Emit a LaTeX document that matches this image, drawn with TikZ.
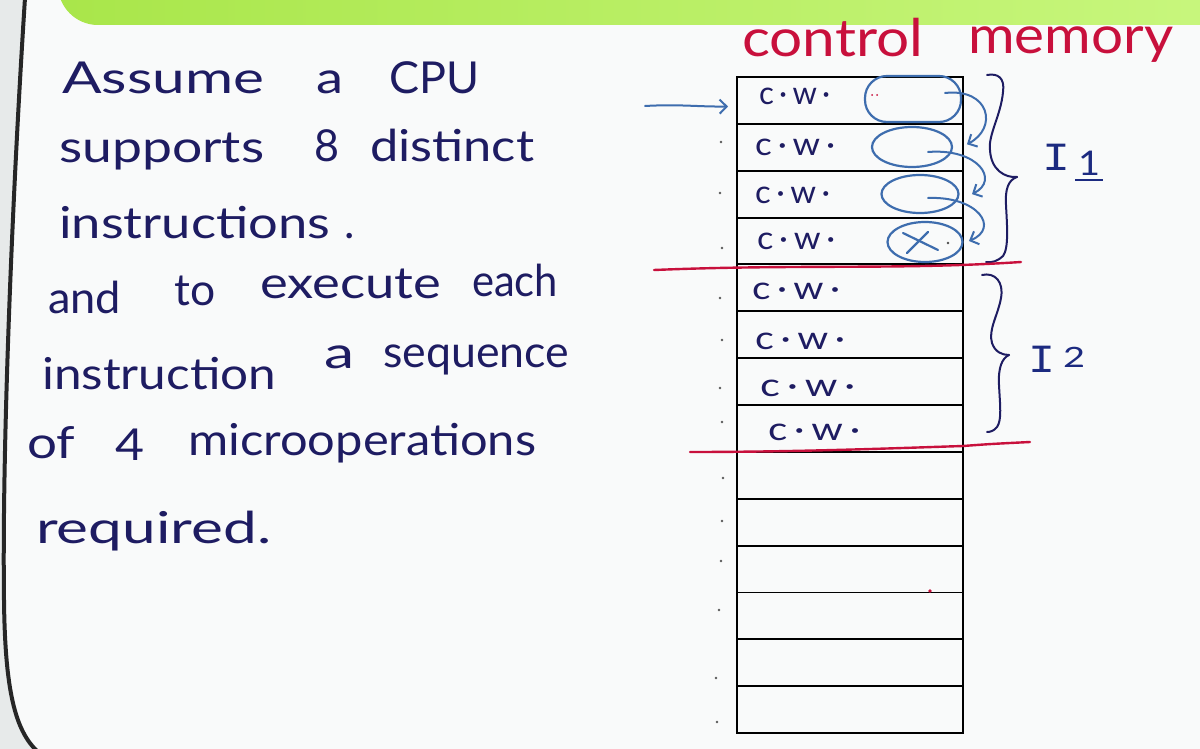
\documentclass[tikz,border=0pt]{standalone}
\usepackage{fontspec}
\usepackage{graphicx}
\setmainfont{Lato}
\newfontfamily\monoI{Liberation Mono}
\usetikzlibrary{shapes.geometric,arrows.meta,calc}
\definecolor{ink}{HTML}{1E1C62}
\definecolor{redink}{HTML}{C8103C}
\definecolor{blueink}{HTML}{3E6DAE}
\definecolor{navy}{HTML}{1C2A80}
\definecolor{board}{HTML}{F9FAFA}
\definecolor{edgegrey}{HTML}{E7EAEA}
\definecolor{gA}{HTML}{A9E64A}
\definecolor{gB}{HTML}{C9F77F}
\newcommand\hwd[2]{\resizebox{#1pt}{\height}{#2}}
\tikzset{
  hw/.style={anchor=base west, inner sep=0pt, text=ink, font=\fontsize{44}{50}\selectfont},
  rw/.style={anchor=base west, inner sep=0pt, text=redink, font=\fontsize{52}{60}\selectfont},
  cw/.style={anchor=base west, inner sep=0pt, text=ink, font=\fontsize{32}{38}\selectfont},
  cell/.style={draw=black, line width=1.9pt, minimum width=226pt, minimum height=46.86pt, inner sep=0pt},
  loop/.style={draw=blueink, line width=2.2pt, inner sep=0pt},
  barrow/.style={draw=blueink, line width=2pt, line cap=round, -{Straight Barb[length=7pt,width=14pt]}},
  bracestyle/.style={draw=ink, line width=2pt, line cap=round},
  redline/.style={draw=redink, line width=2.4pt, line cap=round},
  lbl/.style={anchor=base west, inner sep=0pt, text=navy}
}
\begin{document}
\begin{tikzpicture}[x=1pt,y=-1pt]
\useasboundingbox (0,0) rectangle (1200,749);
\fill[board] (0,0) rectangle (1200,749);
% board edge
\fill[edgegrey] (0,0) -- (25,0) .. controls (12,200) and (2,450) .. (4,600) .. controls (5,690) and (15,730) .. (35,749) -- (0,749) -- cycle;
\draw[line width=4pt, color=black!85] (25,-2) .. controls (12,200) and (2,450) .. (4,600) .. controls (5,690) and (15,730) .. (37,751);
% green banner
\begin{scope}
\clip (0,0) rectangle (1200,749);
\shade[left color=gA, right color=gB, rounded corners=40pt] (58,-80) rectangle (1260,25);
\end{scope}

% left text
\node[hw] (w1) at (62,94) {\hwd{202}{Assume}};
\node[hw] (w2) at (316,94) {\hwd{27}{a}};
\node[hw] (w3) at (389,94) {\hwd{90}{CPU}};
\node[hw] (w4) at (59,163) {\hwd{205}{supports}};
\node[hw] (w5) at (314,162) {\hwd{25}{8}};
\node[hw] (w6) at (370,162) {\hwd{164}{distinct}};
\node[hw] (w7) at (59,238) {\hwd{271}{instructions}};
\node[hw] (w8) at (344,238) {.};
\node[hw] (w9) at (48,313) {\hwd{73}{and}};
\node[hw] (w10) at (174,305) {\hwd{41}{to}};
\node[hw] (w11) at (260,298) {\hwd{181}{execute}};
\node[hw] (w12) at (472,296) {\hwd{86}{each}};
\node[hw] (w13) at (42,389) {\hwd{234}{instruction}};
\node[hw] (w14) at (324,368) {\hwd{30}{a}};
\node[hw] (w15) at (383,367) {\hwd{186}{sequence}};
\node[hw] (w16) at (27,458) {\hwd{48}{of}};
\node[hw] (w17) at (115,460) {\hwd{29}{4}};
\node[hw] (w18) at (188,455) {\hwd{348}{microoperations}};
\node[hw] (w19) at (36,543) {\hwd{235}{required.}};

% title
\node[rw] (cm1) at (742,57) {\hwd{181}{control}};
\node[rw] (cm2) at (968,54) {\hwd{205}{memory}};

% memory table
\foreach \i in {1,...,14}
  \node[cell] (r\i) at (850,{77+46.86*(\i-0.5)}) {};

% control words
\node[cw] (c1) at (759,105) {\hwd{71}{c\,·\,w\,·}};
\node[cw] (c2) at (755,156) {\hwd{80}{c\,·\,w\,·}};
\node[cw] (c3) at (755,204) {\hwd{75}{c\,·\,w\,·}};
\node[cw] (c4) at (757,249) {\hwd{78}{c\,·\,w\,·}};
\node[cw] (c5) at (752,299) {\hwd{88}{c\,·\,w\,·}};
\node[cw] (c6) at (755,349) {\hwd{90}{c\,·\,w\,·}};
\node[cw] (c7) at (760,396) {\hwd{95}{c\,·\,w\,·}};
\node[cw] (c8) at (768,440) {\hwd{92}{c\,·\,w\,·}};

% small dots beside rows
\foreach \yy/\xx in {142/721,193/720,248/722,298/720,340/722,388/720,422/722,478/723,521/722,561/721,610/719,678/716,722/717}
  \fill[black!65] (\xx,\yy) circle (1.3pt);

% loops
\node[loop, rectangle, rounded corners=22pt, minimum width=96pt, minimum height=46pt] (e1) at (913,99) {};
\node[loop, ellipse, minimum width=80pt, minimum height=40pt] (e2) at (912,147) {};
\node[loop, ellipse, minimum width=77pt, minimum height=38pt] (e3) at (920,194) {};
\node[loop, ellipse, minimum width=75pt, minimum height=40pt] (e4) at (925,242) {};
\draw[blueink, line width=2.2pt, line cap=round] ($(e4.center)+(-22,-9)$) -- ($(e4.center)+(13,8)$);
\draw[blueink, line width=2.2pt, line cap=round] ($(e4.center)+(-18,11)$) -- ($(e4.center)+(3,-10)$);
\fill[black!70] ($(e4.center)+(23,1)$) circle (1.3pt);
\fill[redink] ($(e1.center)+(-41,-4)$) circle (1pt);
\fill[redink] ($(e1.center)+(-36,-4)$) circle (1pt);

% sequencing arrows
\coordinate (a1s) at ($(e1.center)+(32,-6)$);
\coordinate (a2s) at ($(e2.center)+(16,5)$);
\coordinate (a3s) at ($(e3.center)+(8,4)$);
\draw[barrow] (a1s) .. controls (990,88) and (998,128) .. ($(r2.east)+(3,-3)$);
\draw[barrow] (a2s) .. controls (978,148) and (1000,180) .. ($(r3.east)+(8,0)$);
\draw[barrow] (a3s) .. controls (978,196) and (1000,228) .. ($(r4.east)+(5,0)$);

% entry arrow
\coordinate (la) at (645,106);
\draw[barrow] (la) .. controls (680,104) and (700,107) .. ($(r1.west)+(-8,6)$);

% braces
\draw[bracestyle] (987,75) .. controls (998,73) and (1005,78) .. (1003,92)
  .. controls (1001,115) and (988,135) .. (990,150)
  .. controls (991,170) and (1005,178) .. (1017,177);
\draw[bracestyle] (1017,177) .. controls (1008,180) and (1005,190) .. (1006,205)
  .. controls (1007,225) and (1009,248) .. (1003,256)
  .. controls (998,261) and (992,263) .. (986,262);
\draw[bracestyle] (982,275) .. controls (995,272) and (1004,282) .. (1001,298)
  .. controls (998,315) and (988,330) .. (992,343)
  .. controls (995,352) and (1002,355) .. (1009,355);
\draw[bracestyle] (1009,355) .. controls (1002,358) and (998,368) .. (999,385)
  .. controls (1000,405) and (1002,420) .. (997,427)
  .. controls (994,431) and (990,432) .. (987,432);

% labels
\node[lbl, font=\monoI\fontsize{40}{44}\selectfont] (i1a) at (1042,171) {\hwd{28}{I}};
\node[lbl, font=\fontsize{34}{40}\selectfont] (i1b) at (1078,176) {\hwd{22}{1}};
\draw[navy, line width=2pt] (1075,180) -- (1103,180);
\node[lbl, font=\monoI\fontsize{40}{44}\selectfont] (i2a) at (1028,372) {\hwd{27}{I}};
\node[lbl, font=\fontsize{28}{34}\selectfont] (i2b) at (1063,367) {\hwd{22}{2}};

% red separators
\draw[redline] (654,270) .. controls (800,264) and (900,270) .. (1021,262);
\draw[redline] (690,452) .. controls (800,452) and (900,448) .. (963,446) .. controls (990,444) .. (1030,442);
\fill[redink] (930,591) circle (1.8pt);
\end{tikzpicture}
\end{document}
